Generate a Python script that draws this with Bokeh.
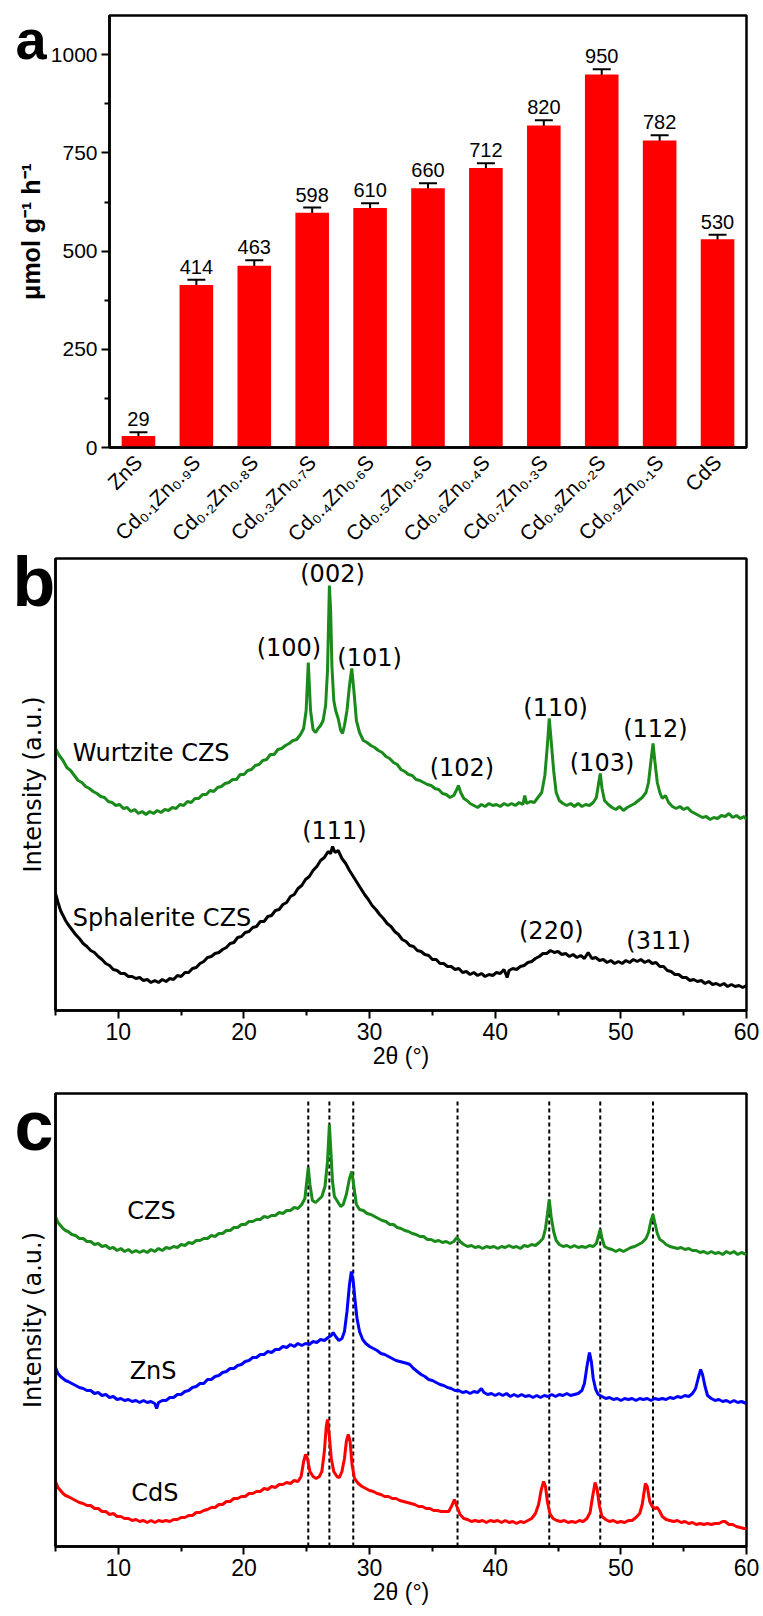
import math
from bokeh.plotting import figure
from bokeh.layouts import column
from bokeh.models import Range1d, FactorRange, FixedTicker, Whisker, ColumnDataSource, TeeHead, GridBox
from bokeh.core.properties import value
from bokeh.embed import file_html
from bokeh.resources import INLINE

# ---------------- Panel a data ----------------
CATEGORIES = ["ZnS", "Cd\u2080.\u2081Zn\u2080.\u2089S", "Cd\u2080.\u2082Zn\u2080.\u2088S", "Cd\u2080.\u2083Zn\u2080.\u2087S",
              "Cd\u2080.\u2084Zn\u2080.\u2086S", "Cd\u2080.\u2085Zn\u2080.\u2085S", "Cd\u2080.\u2086Zn\u2080.\u2084S",
              "Cd\u2080.\u2087Zn\u2080.\u2083S", "Cd\u2080.\u2088Zn\u2080.\u2082S", "Cd\u2080.\u2089Zn\u2080.\u2081S", "CdS"]
RATES = [29, 414, 463, 598, 610, 660, 712, 820, 950, 782, 530]
ERRORS = [10, 13, 14, 13, 12, 13, 12, 13, 13, 13, 12]
A_YTICKS = [0, 250, 500, 750, 1000]
A_YMINOR = [125, 375, 625, 875]

# ---------------- Panel b data (2theta, intensity a.u.) ----------------
WURTZITE_B = [
 (5.0,262),(5.3,255),(5.6,250),(5.9,243),(6.2,240),(6.5,235),(6.8,230),(7.1,228),(7.4,224),(7.7,222),(8.0,219),(8.3,217),
 (8.6,214),(8.9,213),(9.2,209),(9.5,208),(9.8,205),(10.1,206),(10.4,202),(10.7,203),(11.0,199),(11.3,201),(11.6,197),(11.9,199),
 (12.2,196),(12.5,199),(12.8,197),(13.1,200),(13.4,198),(13.7,201),(14.0,200),(14.3,203),(14.6,202),(14.9,206),(15.2,205),(15.5,209),
 (15.8,208),(16.1,212),(16.4,212),(16.7,216),(17.0,216),(17.3,220),(17.6,219),(17.9,223),(18.2,224),(18.5,227),(18.8,228),(19.1,231),
 (19.4,231),(19.7,236),(20.0,236),(20.3,240),(20.6,241),(20.9,245),(21.2,246),(21.5,250),(21.8,251),(22.1,256),(22.4,256),(22.7,261),
 (23.0,262),(23.3,265),(23.6,267),(23.9,270),(24.2,271),(24.5,276),(24.75,282),(24.95,300),(25.12,348),(25.3,300),(25.5,281),(25.7,278),
 (25.9,282),(26.1,285),(26.3,290),(26.5,305),(26.65,340),(26.8,425),(26.9,400),(27.0,345),(27.15,310),(27.3,300),(27.5,292),(27.7,280),
 (27.85,277),(28.0,285),(28.2,300),(28.4,325),(28.58,342),(28.75,320),(28.95,290),(29.2,278),(29.5,270),(29.8,268),(30.1,265),(30.4,263),
 (30.7,260),(31.0,258),(31.3,254),(31.6,252),(31.9,248),(32.2,246),(32.5,241),(32.8,239),(33.1,236),(33.4,235),(33.7,231),(34.0,230),
 (34.3,228),(34.6,226),(34.9,225),(35.2,222),(35.5,221),(35.8,217),(36.1,216),(36.4,213),(36.7,215),(36.9,220),(37.07,225),(37.25,218),
 (37.5,212),(37.75,210),(38.0,207),(38.3,205),(38.6,203),(38.9,206),(39.2,204),(39.5,207),(39.8,205),(40.1,206),(40.4,204),(40.7,207),
 (41.0,205),(41.3,207),(41.6,205),(41.9,208),(42.2,206),(42.35,215),(42.5,207),(42.8,209),(43.1,208),(43.4,213),(43.7,218),(43.95,235),
 (44.15,265),(44.3,292),(44.45,270),(44.65,240),(44.85,218),(45.1,210),(45.4,207),(45.7,205),(46.0,207),(46.3,204),(46.6,207),(46.9,204),
 (47.2,206),(47.5,205),(47.8,208),(48.05,213),(48.2,225),(48.36,237),(48.5,222),(48.7,210),(49.0,206),(49.3,203),(49.6,201),(49.9,204),
 (50.2,200),(50.5,203),(50.8,205),(51.1,207),(51.4,210),(51.7,213),(52.0,218),(52.2,228),(52.4,250),(52.56,267),(52.7,250),(52.9,228),
 (53.1,218),(53.3,212),(53.55,215),(53.8,208),(54.1,204),(54.4,202),(54.7,204),(55.0,201),(55.3,203),(55.6,199),(55.9,197),(56.2,195),
 (56.5,193),(56.8,194),(57.1,191),(57.4,193),(57.7,192),(58.0,195),(58.3,194),(58.6,197),(58.9,193),(59.2,195),(59.5,192),(59.8,194),(60.0,191)]

SPHALERITE_B = [
 (5.0,117),(5.2,108),(5.4,100),(5.6,95),(5.8,90),(6.0,86),(6.3,81),(6.6,76),(6.9,72),(7.2,67),(7.5,64),(7.8,60),(8.1,58),(8.4,54),
 (8.7,51),(9.0,47),(9.3,45),(9.6,41),(9.9,40),(10.2,37),(10.5,37),(10.8,34),(11.1,34),(11.4,32),(11.7,33),(12.0,30),(12.3,31),(12.6,28),
 (12.9,30),(13.2,28),(13.5,31),(13.8,29),(14.1,32),(14.4,31),(14.7,35),(15.0,34),(15.3,38),(15.6,38),(15.9,42),(16.2,43),(16.5,47),
 (16.8,49),(17.1,53),(17.4,54),(17.7,57),(18.0,58),(18.3,61),(18.6,63),(18.9,67),(19.2,68),(19.5,73),(19.8,74),(20.1,78),(20.4,79),
 (20.7,83),(21.0,84),(21.3,89),(21.6,89),(21.9,94),(22.2,95),(22.5,100),(22.8,101),(23.1,106),(23.4,108),(23.7,114),(24.0,116),
 (24.3,122),(24.6,125),(24.9,131),(25.2,134),(25.5,140),(25.8,144),(26.1,150),(26.4,153),(26.7,159),(26.9,157),(27.05,164),(27.25,158),
 (27.5,160),(27.8,152),(28.1,147),(28.4,140),(28.7,134),(29.0,128),(29.3,122),(29.6,116),(29.9,111),(30.2,105),(30.5,101),(30.8,96),
 (31.1,92),(31.4,87),(31.7,84),(32.0,79),(32.3,76),(32.6,71),(32.9,69),(33.2,65),(33.5,64),(33.8,60),(34.1,59),(34.4,56),(34.7,55),
 (35.0,51),(35.3,51),(35.6,47),(35.9,47),(36.2,44),(36.5,44),(36.8,41),(37.1,42),(37.4,38),(37.7,39),(38.0,36),(38.3,38),(38.6,35),
 (38.9,37),(39.2,34),(39.5,36),(39.8,35),(40.1,38),(40.4,37),(40.7,41),(40.95,33),(41.1,40),(41.4,42),(41.7,41),(42.0,44),(42.3,45),
 (42.6,48),(42.9,49),(43.2,52),(43.5,54),(43.8,57),(44.1,57),(44.4,60),(44.7,58),(45.0,59),(45.3,56),(45.6,57),(45.9,54),(46.2,56),
 (46.5,53),(46.8,55),(47.1,52),(47.4,58),(47.7,52),(48.0,53),(48.3,50),(48.6,51),(48.9,48),(49.2,50),(49.5,47),(49.8,49),(50.1,47),
 (50.4,50),(50.7,48),(51.0,51),(51.3,49),(51.6,51),(51.9,48),(52.2,50),(52.5,47),(52.8,48),(53.1,44),(53.4,44),(53.7,40),(54.0,39),
 (54.3,36),(54.6,36),(54.9,33),(55.2,33),(55.5,30),(55.8,31),(56.1,29),(56.4,30),(56.7,27),(57.0,29),(57.3,26),(57.6,27),(57.9,25),
 (58.2,27),(58.5,24),(58.8,26),(59.1,24),(59.4,25),(59.7,23),(60.0,25)]

B_HKL = ["(002)", "(100)", "(101)", "(102)", "(110)", "(103)", "(112)", "(111)", "(220)", "(311)"]
B_HKL_X = [27.05, 23.58, 30.0, 37.35, 44.8, 48.5, 52.75, 27.2, 44.46, 53.0]
B_HKL_Y = [437, 363, 353, 243, 303, 248, 282, 180, 80, 70]
B_NAMES = ["Wurtzite CZS", "Sphalerite CZS"]
B_NAMES_X = [6.37, 6.37]
B_NAMES_Y = [258, 93]

# ---------------- Panel c data ----------------
CZS_C = [
 (5.0,330),(5.2,324),(5.4,321),(5.6,318),(5.8,316),(6.0,315),(6.3,312),(6.6,311),(6.9,308),(7.2,308),(7.5,305),(7.8,305),(8.1,302),
 (8.4,303),(8.7,300),(9.0,301),(9.3,298),(9.6,299),(9.9,296),(10.2,298),(10.5,295),(10.8,297),(11.1,294),(11.4,296),(11.7,294),
 (12.0,296),(12.3,294),(12.6,297),(12.9,295),(13.2,298),(13.5,296),(13.8,299),(14.1,298),(14.4,300),(14.7,299),(15.0,302),(15.3,301),
 (15.6,304),(15.9,303),(16.2,306),(16.5,306),(16.8,308),(17.1,308),(17.4,311),(17.7,310),(18.0,313),(18.3,313),(18.6,316),(18.9,316),
 (19.2,319),(19.5,319),(19.8,322),(20.1,322),(20.4,325),(20.7,325),(21.0,327),(21.3,327),(21.6,330),(21.9,329),(22.2,331),(22.5,331),
 (22.8,334),(23.1,333),(23.4,336),(23.7,336),(24.0,339),(24.3,338),(24.6,342),(24.85,348),(25.0,365),(25.12,379),(25.25,362),
 (25.45,346),(25.7,344),(25.95,347),(26.2,350),(26.45,360),(26.65,385),(26.8,422),(26.92,395),(27.05,365),(27.2,350),(27.45,345),
 (27.7,340),(27.9,342),(28.15,352),(28.4,368),(28.58,375),(28.75,360),(28.95,342),(29.2,337),(29.5,336),(29.8,333),(30.1,332),
 (30.4,330),(30.7,328),(31.0,326),(31.3,325),(31.6,322),(31.9,322),(32.2,319),(32.5,318),(32.8,316),(33.1,315),(33.4,313),(33.7,312),
 (34.0,310),(34.3,310),(34.6,307),(34.9,307),(35.2,305),(35.5,306),(35.8,304),(36.1,305),(36.4,303),(36.7,305),(36.95,309),(37.2,305),
 (37.5,302),(37.8,300),(38.1,301),(38.4,299),(38.7,300),(39.0,298),(39.3,300),(39.6,299),(39.9,300),(40.2,298),(40.5,300),(40.8,299),
 (41.1,301),(41.4,299),(41.7,300),(42.0,298),(42.3,301),(42.6,300),(42.9,302),(43.2,301),(43.5,304),(43.8,308),(44.0,318),(44.15,332),
 (44.3,347),(44.45,330),(44.65,315),(44.85,306),(45.1,302),(45.4,300),(45.7,301),(46.0,299),(46.3,301),(46.6,299),(46.9,300),(47.2,299),
 (47.5,301),(47.8,300),(48.05,303),(48.2,310),(48.36,317),(48.5,308),(48.7,300),(49.0,298),(49.3,297),(49.6,295),(49.9,297),(50.2,295),
 (50.5,297),(50.8,299),(51.1,300),(51.4,302),(51.7,304),(52.0,308),(52.2,314),(52.4,326),(52.56,332),(52.7,324),(52.9,313),(53.1,307),
 (53.35,305),(53.6,302),(53.9,300),(54.2,299),(54.5,298),(54.8,299),(55.1,297),(55.4,298),(55.7,296),(56.0,296),(56.3,294),(56.6,295),
 (56.9,293),(57.2,295),(57.5,293),(57.8,294),(58.1,292),(58.4,295),(58.7,293),(59.0,295),(59.3,292),(59.6,294),(60.0,292)]

ZNS_C = [
 (5.0,179),(5.2,173),(5.4,170),(5.6,168),(5.8,166),(6.0,165),(6.3,163),(6.6,161),(6.9,159),(7.2,158),(7.5,156),(7.8,156),(8.1,153),
 (8.4,154),(8.7,151),(9.0,152),(9.3,149),(9.6,150),(9.9,147),(10.2,148),(10.5,146),(10.8,147),(11.1,145),(11.4,146),(11.7,144),
 (12.0,146),(12.3,144),(12.6,145),(12.9,143),(13.05,138),(13.2,144),(13.5,146),(13.8,146),(14.1,149),(14.4,149),(14.7,152),(15.0,152),
 (15.3,155),(15.6,156),(15.9,159),(16.2,160),(16.5,163),(16.8,163),(17.1,167),(17.4,167),(17.7,170),(18.0,171),(18.3,174),(18.6,175),
 (18.9,178),(19.2,178),(19.5,181),(19.8,182),(20.1,185),(20.4,186),(20.7,189),(21.0,189),(21.3,192),(21.6,192),(21.9,195),(22.2,194),
 (22.5,197),(22.8,197),(23.1,200),(23.4,199),(23.7,202),(24.0,200),(24.3,203),(24.6,201),(24.9,203),(25.2,202),(25.5,205),(25.8,204),
 (26.1,207),(26.4,206),(26.7,209),(26.95,211),(27.1,214),(27.3,210),(27.55,206),(27.8,208),(28.0,215),(28.2,235),(28.4,262),(28.55,275),
 (28.7,265),(28.85,245),(29.0,228),(29.2,215),(29.45,207),(29.7,203),(30.0,200),(30.3,198),(30.6,196),(30.9,193),(31.2,192),(31.5,190),
 (31.8,188),(32.1,186),(32.4,185),(32.7,184),(33.0,183),(33.2,182),(33.5,178),(33.8,175),(34.1,172),(34.4,170),(34.7,167),(35.0,166),
 (35.3,164),(35.6,162),(35.9,161),(36.2,159),(36.5,158),(36.8,156),(37.1,156),(37.4,154),(37.7,155),(38.0,153),(38.3,155),(38.6,154),
 (38.9,158),(39.1,154),(39.4,152),(39.7,153),(40.0,151),(40.3,153),(40.6,151),(40.9,153),(41.2,150),(41.5,152),(41.8,150),(42.1,152),
 (42.4,150),(42.7,151),(43.0,149),(43.3,151),(43.6,149),(43.9,151),(44.2,150),(44.5,152),(44.8,150),(45.1,152),(45.4,151),(45.7,153),
 (46.0,151),(46.3,152),(46.6,153),(46.9,156),(47.1,163),(47.3,180),(47.5,194),(47.65,185),(47.8,168),(48.0,157),(48.2,152),(48.5,150),
 (48.8,148),(49.1,149),(49.4,147),(49.7,148),(50.0,146),(50.3,148),(50.6,147),(50.9,148),(51.2,146),(51.5,148),(51.8,147),(52.1,148),
 (52.4,146),(52.7,148),(53.0,147),(53.3,148),(53.6,147),(53.9,149),(54.2,148),(54.5,150),(54.8,149),(55.1,151),(55.4,150),(55.7,153),
 (55.95,158),(56.15,168),(56.35,177),(56.5,172),(56.7,160),(56.9,151),(57.2,148),(57.5,146),(57.8,147),(58.1,145),(58.4,146),(58.7,144),
 (59.0,146),(59.3,144),(59.6,145),(60.0,143)]

CDS_C = [
 (5.0,65),(5.2,59),(5.4,56),(5.6,53),(5.8,51),(6.0,50),(6.3,48),(6.6,46),(6.9,44),(7.2,43),(7.5,41),(7.8,41),(8.1,38),(8.4,38),(8.7,35),
 (9.0,35),(9.3,32),(9.6,33),(9.9,30),(10.2,30),(10.5,28),(10.8,28),(11.1,26),(11.4,27),(11.7,25),(12.0,26),(12.3,24),(12.6,26),(12.9,24),
 (13.2,26),(13.5,25),(13.8,26),(14.1,25),(14.4,27),(14.7,27),(15.0,29),(15.3,29),(15.6,31),(15.9,31),(16.2,34),(16.5,34),(16.8,36),
 (17.1,37),(17.4,39),(17.7,39),(18.0,42),(18.3,42),(18.6,45),(18.9,45),(19.2,48),(19.5,48),(19.8,50),(20.1,50),(20.4,53),(20.7,53),
 (21.0,55),(21.3,55),(21.6,58),(21.9,57),(22.2,60),(22.5,59),(22.8,62),(23.1,62),(23.4,64),(23.7,63),(24.0,66),(24.3,65),(24.55,70),
 (24.75,85),(24.9,92),(25.05,88),(25.25,75),(25.5,70),(25.75,68),(26.0,70),(26.2,75),(26.4,95),(26.55,120),(26.65,127),(26.8,110),
 (26.95,88),(27.15,75),(27.4,70),(27.6,69),(27.8,75),(28.0,88),(28.15,105),(28.3,112),(28.45,105),(28.6,82),(28.8,68),(29.1,63),
 (29.4,60),(29.7,58),(30.0,56),(30.3,55),(30.6,53),(30.9,52),(31.2,50),(31.5,50),(31.8,48),(32.1,48),(32.4,46),(32.7,45),(33.0,44),
 (33.3,43),(33.6,42),(33.9,40),(34.2,40),(34.5,38),(34.8,38),(35.1,36),(35.4,36),(35.7,35),(36.0,35),(36.3,35),(36.55,41),(36.75,47),
 (36.95,40),(37.2,32),(37.5,28),(37.8,27),(38.1,25),(38.4,26),(38.7,25),(39.0,26),(39.3,24),(39.6,26),(39.9,25),(40.2,26),(40.5,24),
 (40.8,26),(41.1,24),(41.4,25),(41.7,23),(42.0,25),(42.3,24),(42.6,26),(42.9,28),(43.2,33),(43.45,42),(43.65,56),(43.85,65),(44.0,60),
 (44.15,45),(44.35,33),(44.6,28),(44.9,26),(45.2,25),(45.5,26),(45.8,24),(46.1,25),(46.4,24),(46.7,26),(47.0,25),(47.3,28),(47.55,34),
 (47.75,50),(47.95,64),(48.1,58),(48.3,40),(48.5,30),(48.8,27),(49.1,25),(49.4,26),(49.7,24),(50.0,25),(50.3,24),(50.6,26),(50.9,26),
 (51.2,29),(51.5,33),(51.7,42),(51.95,63),(52.1,60),(52.3,45),(52.5,40),(52.7,38),(52.9,39),(53.1,35),(53.3,30),(53.6,27),(53.9,26),
 (54.2,25),(54.5,26),(54.8,24),(55.1,25),(55.4,23),(55.7,24),(56.0,22),(56.3,23),(56.6,22),(56.9,23),(57.2,22),(57.5,23),(57.8,23),
 (58.1,25),(58.3,25),(58.6,22),(58.9,22),(59.2,20),(59.5,19),(59.8,18),(60.0,18)]

REF_LINES = [25.12, 26.8, 28.7, 37.0, 44.3, 48.36, 52.56]
C_NAMES = ["CZS", "ZnS", "CdS"]
C_NAMES_X = [12.64, 12.77, 12.9]
C_NAMES_Y = [336, 176, 54]

X_MAJOR = [10, 20, 30, 40, 50, 60]
X_MINOR = [5, 15, 25, 35, 45, 55]

PANEL_LETTERS = ["a", "b", "c"]
LETTER_SIZES = ["56px", "70px", "70px"]
LETTER_X = [15, 12, 14]
LETTER_Y = [39, 581, 1125]

GREEN = "#1a8a1a"
NUMFONT = "Liberation Sans"
ANNFONT = "DejaVu Sans"
AXW = 2.5
PAGE_W, PAGE_H = 763, 1616


def base_style(p):
    p.outline_line_color = "black"
    p.outline_line_width = AXW
    p.outline_line_alpha = 1.0
    p.xgrid.visible = False
    p.ygrid.visible = False
    p.background_fill_color = "white"
    p.border_fill_color = "white"
    for ax in (p.xaxis[0], p.yaxis[0]):
        ax.axis_line_width = AXW
        ax.axis_line_color = "black"
        ax.major_tick_line_width = 2
        ax.minor_tick_line_width = 2
        ax.major_tick_in = 0
        ax.minor_tick_in = 0
        ax.major_tick_out = 8
        ax.minor_tick_out = 5
        ax.major_label_text_font = NUMFONT
        ax.major_label_text_color = "black"
        ax.axis_label_text_color = "black"
        ax.axis_label_text_font_style = "normal"


# ---------------- Panel a ----------------
pa = figure(x_range=FactorRange(*CATEGORIES), y_range=Range1d(0, 1100),
            frame_width=637, frame_height=432, frame_align=False,
            min_border_left=109, min_border_right=17, min_border_top=15, min_border_bottom=100,
            output_backend="svg", toolbar_location=None)
base_style(pa)
src = ColumnDataSource(dict(x=CATEGORIES, top=RATES,
                            up=[r + e for r, e in zip(RATES, ERRORS)],
                            lo=[r - e for r, e in zip(RATES, ERRORS)],
                            lab=[str(r) for r in RATES]))
pa.vbar(x="x", top="top", width=0.58, source=src, fill_color="#ff0000", line_color=None)
wh = Whisker(source=src, base="x", upper="up", lower="lo", line_width=2, line_color="black",
             upper_head=TeeHead(size=18, line_width=2, line_color="black"),
             lower_head=TeeHead(size=18, line_width=2, line_color="black"))
pa.add_layout(wh)
pa.text(x="x", y="up", text="lab", source=src, text_align="center", text_baseline="bottom",
        y_offset=-6, text_font=value(NUMFONT), text_font_size="20px", text_color="black")
pa.yaxis.ticker = FixedTicker(ticks=A_YTICKS, minor_ticks=A_YMINOR)
pa.yaxis.major_label_text_font_size = "21px"
pa.yaxis.major_label_standoff = 4
pa.yaxis.axis_label = "\u03bcmol g\u207b\u00b9 h\u207b\u00b9"
pa.yaxis.axis_label_text_font = NUMFONT
pa.yaxis.axis_label_text_font_style = "bold"
pa.yaxis.axis_label_text_font_size = "25px"
pa.yaxis.axis_label_standoff = 3
pa.xaxis.major_label_orientation = math.pi / 4
pa.xaxis.major_label_text_font_size = "21px"
pa.xaxis.major_tick_line_color = None
pa.xaxis.major_label_standoff = 3

# ---------------- Panel b ----------------
pb = figure(x_range=Range1d(5, 60), y_range=Range1d(0, 452),
            frame_width=691, frame_height=452, frame_align=False,
            min_border_left=55, min_border_right=17, min_border_top=2, min_border_bottom=64,
            output_backend="svg", toolbar_location=None)
base_style(pb)
pb.line([p[0] for p in WURTZITE_B], [p[1] for p in WURTZITE_B], line_color=GREEN, line_width=3)
pb.line([p[0] for p in SPHALERITE_B], [p[1] for p in SPHALERITE_B], line_color="black", line_width=3)
pb.text(x=B_HKL_X, y=B_HKL_Y, text=B_HKL, text_align="center", text_baseline="middle",
        text_font=value(ANNFONT), text_font_size="24px", text_color="black")
pb.text(x=B_NAMES_X, y=B_NAMES_Y, text=B_NAMES, text_align="left", text_baseline="middle",
        text_font=value(ANNFONT), text_font_size="24px", text_color="black")

# ---------------- Panel c ----------------
pc = figure(x_range=Range1d(5, 60), y_range=Range1d(0, 453),
            frame_width=691, frame_height=453, frame_align=False,
            min_border_left=55, min_border_right=17, min_border_top=19, min_border_bottom=64,
            output_backend="svg", toolbar_location=None)
base_style(pc)
pc.segment(x0=REF_LINES, y0=[0] * len(REF_LINES), x1=REF_LINES, y1=[448] * len(REF_LINES),
           line_color="black", line_width=2, line_dash="4 3")
pc.line([p[0] for p in CZS_C], [p[1] for p in CZS_C], line_color=GREEN, line_width=3)
pc.line([p[0] for p in ZNS_C], [p[1] for p in ZNS_C], line_color="#0000ff", line_width=3)
pc.line([p[0] for p in CDS_C], [p[1] for p in CDS_C], line_color="#ff0000", line_width=3)
pc.text(x=C_NAMES_X, y=C_NAMES_Y, text=C_NAMES, text_align="center", text_baseline="middle",
        text_font=value(ANNFONT), text_font_size="24px", text_color="black")

for p in (pb, pc):
    p.xaxis.ticker = FixedTicker(ticks=X_MAJOR, minor_ticks=X_MINOR)
    p.xaxis.major_label_text_font_size = "23px"
    p.xaxis.major_label_standoff = 4
    p.xaxis.axis_label = "2\u03b8 (\u00b0)"
    p.xaxis.axis_label_text_font = NUMFONT
    p.xaxis.axis_label_text_font_size = "23px"
    p.xaxis.axis_label_standoff = 0
    p.yaxis.ticker = FixedTicker(ticks=[])
    p.yaxis.major_tick_line_color = None
    p.yaxis.minor_tick_line_color = None
    p.yaxis.axis_label = "Intensity (a.u.)"
    p.yaxis.axis_label_text_font = ANNFONT
    p.yaxis.axis_label_text_font_size = "24px"
    p.yaxis.axis_label_standoff = 9

panels = column(pa, pb, pc, spacing=0)

# ---------------- transparent overlay with the panel letters (page pixel coordinates) ----------------
ov = figure(width=PAGE_W, height=PAGE_H, x_range=Range1d(0, PAGE_W), y_range=Range1d(PAGE_H, 0),
            x_axis_type=None, y_axis_type=None, min_border=0, frame_align=False,
            output_backend="svg", toolbar_location=None)
ov.outline_line_color = None
ov.background_fill_color = None
ov.border_fill_color = None
ov.xgrid.visible = False
ov.ygrid.visible = False
ov.text(x=LETTER_X, y=LETTER_Y, text=PANEL_LETTERS, text_align="left", text_baseline="alphabetic",
        text_font=value(NUMFONT), text_font_style="bold", text_font_size=LETTER_SIZES, text_color="black")

page = GridBox(children=[(panels, 0, 0), (ov, 0, 0)])
open("out.html", "w").write(file_html(page, INLINE, "chart"))
